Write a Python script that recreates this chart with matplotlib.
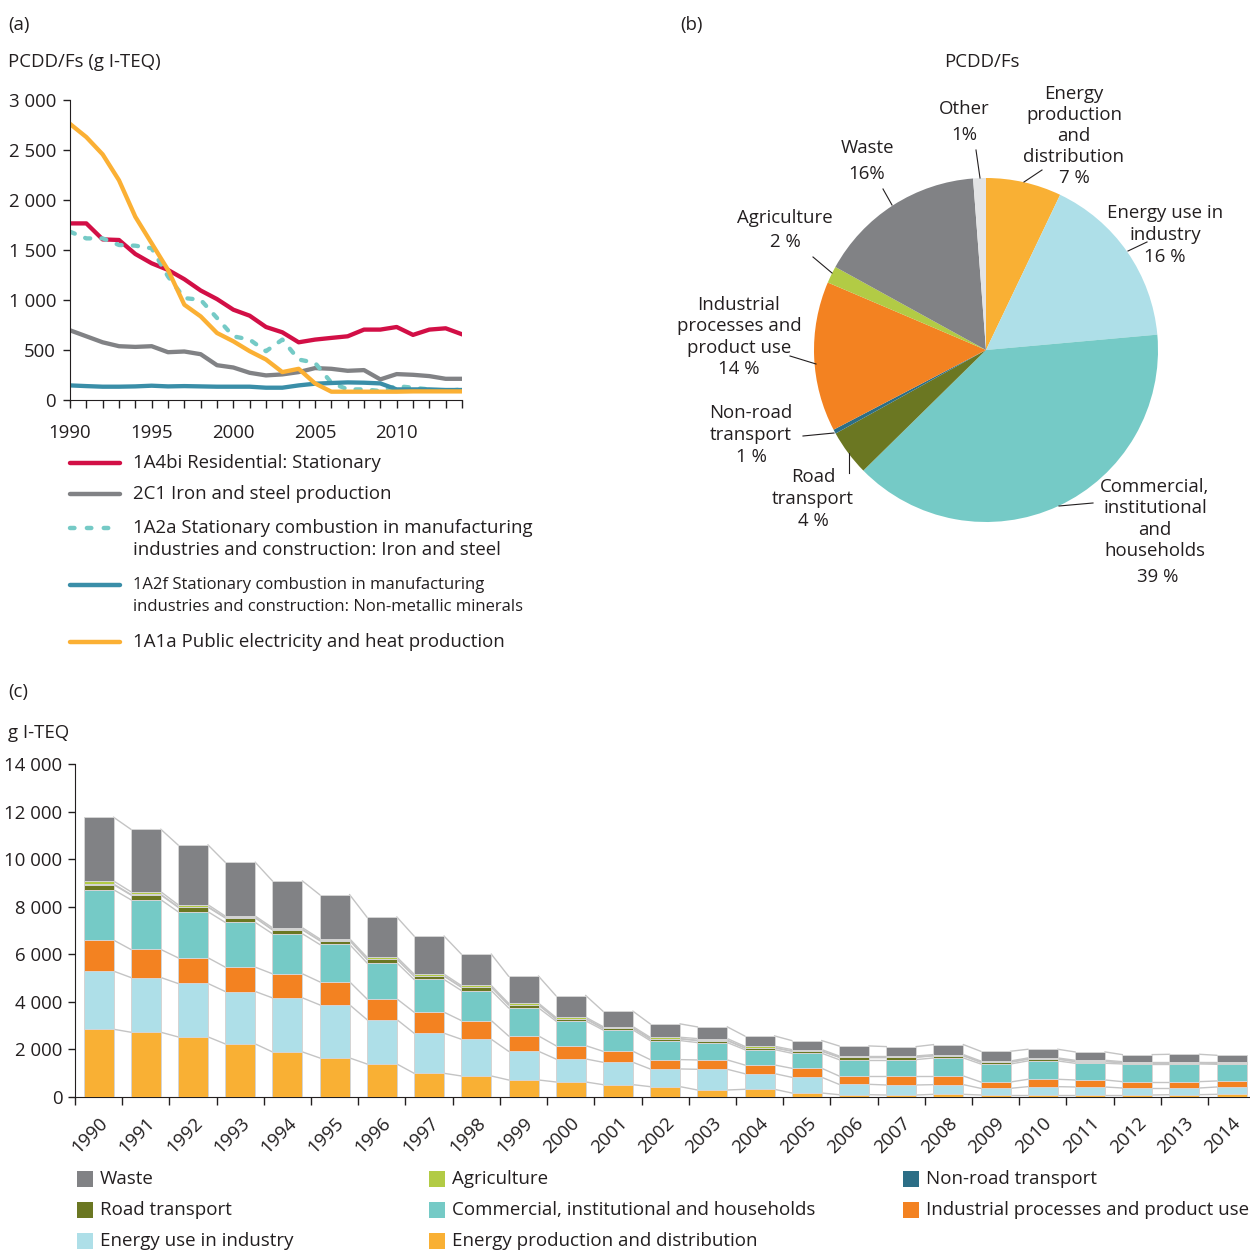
import matplotlib
matplotlib.use("Agg")
import matplotlib.pyplot as plt
import numpy as np
from matplotlib.lines import Line2D
from matplotlib.patches import Rectangle

plt.rcParams['font.family'] = ['Open Sans', 'DejaVu Sans']
plt.rcParams['font.size'] = 13.4
plt.rcParams['text.color'] = '#231f20'
plt.rcParams['axes.edgecolor'] = '#231f20'
plt.rcParams['xtick.color'] = '#231f20'
plt.rcParams['ytick.color'] = '#231f20'

# ---------------- data ----------------
years = list(range(1990, 2015))

# (a) key categories, g I-TEQ
residential = [1766, 1766, 1606, 1600, 1460, 1367, 1301, 1208, 1095, 1009, 903, 843, 730,
               677, 577, 604, 621, 637, 704, 704, 730, 651, 704, 717, 657]
iron_steel = [697, 637, 577, 538, 531, 538, 478, 485, 458, 348, 325, 272, 246, 256, 279,
              319, 312, 292, 299, 206, 259, 252, 239, 212, 212]
manuf_iron = [1683, 1616, 1616, 1550, 1543, 1517, 1235, 1019, 1002, 820, 637, 604, 488,
              604, 405, 372, 173, 106, 106, 90, 139, 123, 106, 90, 106]
non_metallic = [146, 139, 133, 133, 136, 143, 136, 139, 136, 133, 133, 133, 123, 123, 146,
                163, 170, 176, 173, 166, 106, 106, 106, 100, 100]
public_elec = [2761, 2629, 2456, 2197, 1832, 1567, 1301, 953, 836, 670, 587, 488, 405, 279,
               312, 166, 83, 83, 83, 83, 83, 86, 86, 86, 86]

line_labels = ["1A4bi Residential: Stationary",
               "2C1 Iron and steel production",
               "1A2a Stationary combustion in manufacturing\nindustries and construction: Iron and steel",
               "1A2f Stationary combustion in manufacturing\nindustries and construction: Non-metallic minerals",
               "1A1a Public electricity and heat production"]

# (b) share by sector, %
pie_labels = ["Energy production and distribution", "Energy use in industry",
              "Commercial, institutional and households", "Road transport",
              "Non-road transport", "Industrial processes and product use",
              "Agriculture", "Waste", "Other"]
pie_values = [7.1, 16.5, 39.1, 4.3, 0.4, 14.1, 1.6, 15.8, 1.2]

# (c) emissions by sector, g I-TEQ
energy_prod = [2849, 2723, 2526, 2232, 1895, 1642, 1389, 996, 884, 716, 632, 519, 435, 295,
               323, 168, 98, 84, 112, 84, 84, 84, 84, 98, 112]
energy_ind = [2442, 2301, 2246, 2203, 2273, 2232, 1867, 1685, 1544, 1207, 968, 941, 744, 870,
              659, 660, 435, 421, 407, 281, 351, 337, 295, 281, 309]
industrial = [1305, 1179, 1081, 1025, 1011, 968, 870, 884, 786, 645, 561, 463, 393, 393, 365,
              379, 351, 379, 365, 267, 309, 295, 267, 267, 253]
commercial = [2120, 2092, 1936, 1880, 1684, 1572, 1516, 1375, 1263, 1179, 1039, 898, 800, 730,
              646, 632, 688, 688, 758, 757, 772, 702, 743, 743, 701]
road = [213, 199, 187, 187, 160, 160, 147, 135, 135, 122, 80, 67, 68, 82, 69, 83, 98, 98, 85,
        73, 72, 72, 46, 46, 46]
non_road = [25, 25, 24, 24, 23, 22, 21, 20, 20, 19, 18, 17, 16, 16, 15, 15, 14, 14, 13, 12, 12,
            12, 11, 11, 11]
agriculture = [127, 112, 84, 56, 70, 57, 71, 70, 56, 56, 56, 56, 56, 70, 56, 56, 42, 42, 42, 42,
               42, 42, 42, 42, 56]
waste = [2680, 2625, 2512, 2260, 1965, 1852, 1684, 1600, 1319, 1137, 913, 646, 562, 491, 435,
         379, 421, 393, 421, 407, 365, 351, 294, 308, 266]

# colours
C_WASTE = '#818285'
C_AGRI = '#b2cb45'
C_NONROAD = '#2c6e86'
C_ROAD = '#6b7722'
C_COMM = '#75cac6'
C_IND = '#f38221'
C_EUSE = '#aedfe8'
C_EPROD = '#f9b034'
C_OTHER = '#e3e4e5'

W, H = 1250, 1250
FS = 13.4
fig = plt.figure(figsize=(12.5, 12.5), dpi=100)


def box(l, t, r, b):
    return [l / W, 1 - b / H, (r - l) / W, (b - t) / H]


def px(x, y):
    return x / W, 1 - y / H


def ftext(x, y, s, **kw):
    fx, fy = px(x, y)
    fig.text(fx, fy, s, **kw)


def fline(xs, ys, **kw):
    fx = [x / W for x in xs]
    fy = [1 - y / H for y in ys]
    fig.add_artist(Line2D(fx, fy, transform=fig.transFigure, **kw))


def thousands(v, pos=None):
    return f"{int(v):,}".replace(",", " ")


# ---------------- (a) ----------------
ax = fig.add_axes(box(70, 100, 462, 400))
lw = 3.1
ax.plot(years, residential, color='#d20f46', lw=lw)
ax.plot(years, iron_steel, color='#818285', lw=lw)
ax.plot(years, manuf_iron, color='#75cac6', lw=lw, dashes=(1.2, 2.6), dash_capstyle='round')
ax.plot(years, non_metallic, color='#3a8ea8', lw=lw)
ax.plot(years, public_elec, color='#fbb034', lw=lw)
ax.set_xlim(1990, 2014)
ax.set_ylim(0, 3000)
ax.set_yticks(range(0, 3001, 500))
ax.yaxis.set_major_formatter(plt.FuncFormatter(thousands))
ax.set_xticks(years)
ax.set_xticklabels([str(y) if y % 5 == 0 else "" for y in years])
ax.tick_params(axis='y', length=5, width=1, pad=5, labelsize=13.4)
ax.tick_params(axis='x', length=6, width=1, pad=11, labelsize=13.4)
for s in ['top', 'right']:
    ax.spines[s].set_visible(False)
ax.patch.set_alpha(0)

ftext(8, 25, "(a)", ha='left', va='center', fontsize=FS)
ftext(8, 62, "PCDD/Fs (g I-TEQ)", ha='left', va='center', fontsize=FS)

# legend of (a)
leg_items = [
    (463, 463, FS, dict(color='#d20f46')),
    (494, 494, FS, dict(color='#818285')),
    (528, 539, FS, dict(color='#75cac6', dashes=(1.0, 2.8), dash_capstyle='round')),
    (585, 596, 12.0, dict(color='#3a8ea8')),
    (642, 642, FS, dict(color='#fbb034')),
]
for (yl, yt, fs, st), lab in zip(leg_items, line_labels):
    fline([70, 120], [yl, yl], lw=3.2, solid_capstyle='round', **st)
    ftext(133, yt, lab, ha='left', va='center', fontsize=fs,
          linespacing=1.34 * FS / fs)

# ---------------- (b) ----------------
axp = fig.add_axes(box(814, 178, 1158, 522))
pie_colors = [C_EPROD, C_EUSE, C_COMM, C_ROAD, C_NONROAD, C_IND, C_AGRI, C_WASTE, C_OTHER]
axp.pie(pie_values, colors=pie_colors, startangle=90, counterclock=False, radius=1,
        wedgeprops=dict(linewidth=0))
axp.set_xlim(-1, 1)
axp.set_ylim(-1, 1)
axp.set_aspect('equal')
axp.axis('off')

ftext(680, 25, "(b)", ha='left', va='center', fontsize=FS)
ftext(982, 62, "PCDD/Fs", ha='center', va='center', fontsize=FS)

pie_text = [
    (964, 122, "Other\n1%", 1.5, ([976, 980], [150, 178])),
    (1074, 136, "Energy\nproduction\nand\ndistribution\n7 %", 1.23, ([1042, 1024], [170, 182])),
    (1165, 235, "Energy use in\nindustry\n16 %", 1.32, ([1147, 1128], [242, 251])),
    (1155, 519, "Commercial,\ninstitutional\nand\nhouseholds", 1.22, ([1093, 1059], [503, 506])),
    (813, 499, "Road\ntransport\n4 %", 1.3, ([849, 849], [453, 473])),
    (751, 435, "Non-road\ntransport\n1 %", 1.3, ([803, 834], [436, 433])),
    (739, 337, "Industrial\nprocesses and\nproduct use\n14 %", 1.23, ([790, 816], [356, 364])),
    (785, 230, "Agriculture\n2 %", 1.4, ([813, 832], [257, 273])),
    (867, 161, "Waste\n16%", 1.55, ([883, 892], [189, 205])),
]
for x, y, s, ls, (lx, ly) in pie_text:
    ftext(x, y, s, ha='center', va='center', multialignment='center', fontsize=FS,
          linespacing=ls)
    fline(lx, ly, color='#231f20', lw=0.8)
ftext(1158, 577, "39 %", ha='center', va='center', fontsize=FS)

# ---------------- (c) ----------------
axc = fig.add_axes(box(75, 764, 1252, 1097))
x = np.arange(len(years))
bw = 0.635
series = [(energy_prod, C_EPROD, "Energy production and distribution"),
          (energy_ind, C_EUSE, "Energy use in industry"),
          (industrial, C_IND, "Industrial processes and product use"),
          (commercial, C_COMM, "Commercial, institutional and households"),
          (road, C_ROAD, "Road transport"),
          (non_road, C_NONROAD, "Non-road transport"),
          (agriculture, C_AGRI, "Agriculture"),
          (waste, C_WASTE, "Waste")]
bottom = np.zeros(len(years))
for vals, col, lab in series:
    vals = np.array(vals, dtype=float)
    axc.bar(x, vals, bw, bottom=bottom, color=col, edgecolor='#d4d4d4', linewidth=0.7,
            zorder=3)
    top = bottom + vals
    for i in range(len(years) - 1):
        axc.plot([x[i] + bw / 2, x[i + 1] - bw / 2], [top[i], top[i + 1]],
                 color='#c4c4c4', lw=1.0, zorder=2)
    bottom = top
axc.set_xlim(-0.5, 24.43)
axc.set_ylim(0, 14000)
axc.set_yticks(range(0, 14001, 2000))
axc.yaxis.set_major_formatter(plt.FuncFormatter(thousands))
axc.set_xticks(x - 0.5, minor=False)
axc.set_xticklabels([])
axc.set_xticks(x, minor=True)
axc.set_xticklabels([str(y) for y in years], minor=True, rotation=45, ha='right',
                    rotation_mode='anchor')
axc.tick_params(axis='x', which='minor', length=0, pad=12, labelsize=13.4)
axc.tick_params(axis='x', which='major', length=6, width=1)
axc.tick_params(axis='y', length=5, width=1, pad=4, labelsize=13.4)
for s in ['top', 'right']:
    axc.spines[s].set_visible(False)
axc.patch.set_alpha(0)

ftext(8, 692, "(c)", ha='left', va='center', fontsize=FS)
ftext(8, 733, "g I-TEQ", ha='left', va='center', fontsize=FS)

legend_c = [
    (77, 1179, C_WASTE, "Waste"), (429, 1179, C_AGRI, "Agriculture"),
    (903, 1179, C_NONROAD, "Non-road transport"),
    (77, 1210, C_ROAD, "Road transport"),
    (429, 1210, C_COMM, "Commercial, institutional and households"),
    (903, 1210, C_IND, "Industrial processes and product use"),
    (77, 1241, C_EUSE, "Energy use in industry"),
    (429, 1241, C_EPROD, "Energy production and distribution"),
]
for lx, ly, col, lab in legend_c:
    fx, fy = px(lx, ly + 8)
    fig.add_artist(Rectangle((fx, fy), 16 / W, 16 / H, transform=fig.transFigure,
                             facecolor=col, edgecolor='none'))
    ftext(lx + 23, ly, lab, ha='left', va='center', fontsize=13.5)

fig.savefig("out.png", dpi=100)
